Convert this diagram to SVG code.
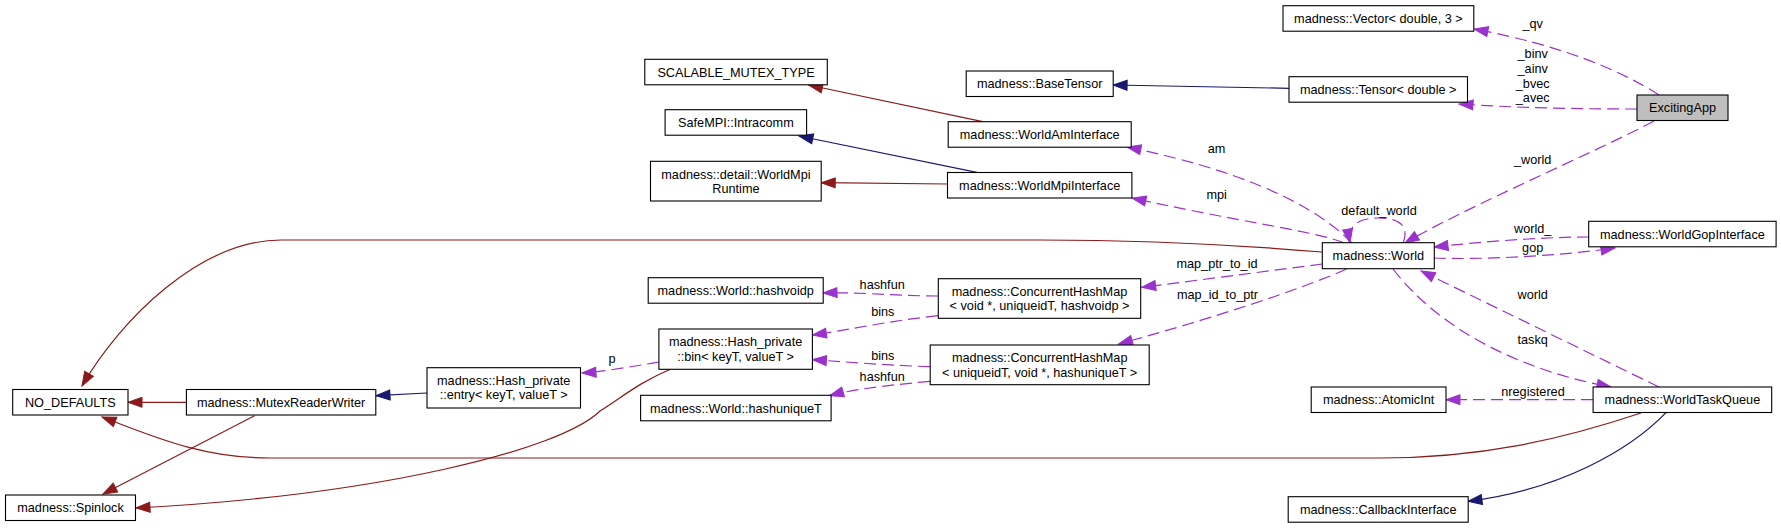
<svg xmlns="http://www.w3.org/2000/svg" width="1781" height="528" viewBox="0 0 1781 528">
<style>
  text { font-family: "Liberation Sans", Arial, sans-serif; font-size: 12.7px; fill: #000; }
  .node text { text-anchor: middle; }
  .lbl { text-anchor: middle; }
  .box { fill: #fff; stroke: #000; stroke-width: 1.1; }
  .cur { fill: #bfbfbf; stroke: #000; stroke-width: 1.1; }
  .e { fill: none; stroke-width: 1.2; }
  .use { stroke: #9a32cd; stroke-dasharray: 12,6; marker-end: url(#ap); }
  .pub { stroke: #191970; marker-end: url(#ab); }
  .pro { stroke: #8b1a1a; marker-end: url(#ar); }
</style>
<defs>
  <marker id="ap" markerUnits="userSpaceOnUse" markerWidth="15" markerHeight="11" refX="14" refY="5" orient="auto" overflow="visible">
    <path d="M0,0 L14,5 L0,10 z" fill="#9a32cd" stroke="#9a32cd" stroke-width="1"/>
  </marker>
  <marker id="ab" markerUnits="userSpaceOnUse" markerWidth="15" markerHeight="11" refX="14" refY="5" orient="auto" overflow="visible">
    <path d="M0,0 L14,5 L0,10 z" fill="#191970" stroke="#191970" stroke-width="1"/>
  </marker>
  <marker id="ar" markerUnits="userSpaceOnUse" markerWidth="15" markerHeight="11" refX="14" refY="5" orient="auto" overflow="visible">
    <path d="M0,0 L14,5 L0,10 z" fill="#8b1a1a" stroke="#8b1a1a" stroke-width="1"/>
  </marker>
</defs>
<rect width="1781" height="528" fill="#fff"/>

<g id="edges">
  <path class="e use" d="M1659,95 C1620,70 1560,45 1474,29"/>
  <path class="e use" d="M1637,109 C1580,109 1520,108 1459,104"/>
  <path class="e use" d="M1654,121 C1600,150 1460,210 1405,243"/>
  <path class="e use" d="M1403,243 C1410,225 1398,218 1378,218 C1358,218 1347,226 1350,243"/>
  <path class="e use" d="M1434,258 C1480,260 1560,256 1615,248"/>
  <path class="e use" d="M1589,237 C1540,237 1480,242 1434,247"/>
  <path class="e use" d="M1352,243 C1310,200 1230,168 1127,147"/>
  <path class="e use" d="M1344,243 C1320,232 1240,222 1132,198"/>
  <path class="e pro" d="M1322,252 C1250,246 1150,240 1040,240 L281,240 C200,240 120,320 82,386"/>
  <path class="e pro" d="M1641,413 C1560,440 1480,458 1380,458 L270,458 C200,458 150,435 102,417"/>
  <path class="e pro" d="M186,402.3 L128,402.3"/>
  <path class="e pro" d="M254.5,415.7 L103,494"/>
  <path class="e pro" d="M671,369 C640,382 625,395 600,411 C560,450 380,495 136,508"/>
  <path class="e pub" d="M427,393 L376,395.7"/>
  <path class="e use" d="M659,362 C630,367 600,372 582,373"/>
  <path class="e use" d="M938,296 C900,296 860,292 823,293"/>
  <path class="e use" d="M938,315.7 C880,322 850,330 812.4,335"/>
  <path class="e use" d="M930,366.7 C880,365 850,362 812.4,359.7"/>
  <path class="e use" d="M930,381.3 C880,386 850,390 829.6,395.7"/>
  <path class="e use" d="M1322.3,264 C1260,272 1200,280 1141.7,287.3"/>
  <path class="e use" d="M1346.7,269 C1300,290 1200,322 1118.5,344"/>
  <path class="e use" d="M1393,269 C1440,330 1520,370 1611,387"/>
  <path class="e use" d="M1659,387 L1421,271"/>
  <path class="e use" d="M1593,399.7 L1446,399.7"/>
  <path class="e pub" d="M1666,412.7 C1630,450 1560,490 1468,501.3"/>
  <path class="e pub" d="M1289,88.3 L1113.1,85"/>
  <path class="e pro" d="M982.7,121.7 L808.6,85"/>
  <path class="e pub" d="M976.9,172.3 L799,136"/>
  <path class="e pro" d="M947.5,184 L821.2,182.7"/>

  <text class="lbl" x="1532.7" y="28">_qv</text>
  <text class="lbl" x="1532.7" y="58.3">_binv</text>
  <text class="lbl" x="1532.7" y="72.8">_ainv</text>
  <text class="lbl" x="1532.7" y="87.5">_bvec</text>
  <text class="lbl" x="1532.7" y="102">_avec</text>
  <text class="lbl" x="1532.7" y="164">_world</text>
  <text class="lbl" x="1379" y="215">default_world</text>
  <text class="lbl" x="1532.7" y="232.7">world_</text>
  <text class="lbl" x="1532.7" y="251.7">gop</text>
  <text class="lbl" x="1216.5" y="152.7">am</text>
  <text class="lbl" x="1216.7" y="199">mpi</text>
  <text class="lbl" x="1217" y="268.3">map_ptr_to_id</text>
  <text class="lbl" x="1217.5" y="299.3">map_id_to_ptr</text>
  <text class="lbl" x="1532.7" y="299">world</text>
  <text class="lbl" x="1532.7" y="344">taskq</text>
  <text class="lbl" x="1533" y="395.7">nregistered</text>
  <text class="lbl" x="882.2" y="289">hashfun</text>
  <text class="lbl" x="882.8" y="315.7">bins</text>
  <text class="lbl" x="882.8" y="359.7">bins</text>
  <text class="lbl" x="882.2" y="380.7">hashfun</text>
  <text class="lbl" x="612" y="363.3">p</text>
</g>

<g id="ExcitingApp" class="node"><rect class="cur" x="1637" y="95" width="91" height="25.5"/><text x="1682.5" y="112.3">ExcitingApp</text></g>
<g id="Vector" class="node"><rect class="box" x="1283" y="5.7" width="190.8" height="25.5"/><text x="1378.4" y="23">madness::Vector&lt; double, 3 &gt;</text></g>
<g id="Tensor" class="node"><rect class="box" x="1289" y="76.7" width="178.5" height="25.5"/><text x="1378.2" y="94">madness::Tensor&lt; double &gt;</text></g>
<g id="BaseTensor" class="node"><rect class="box" x="966.2" y="71" width="147" height="25.5"/><text x="1039.7" y="88.3">madness::BaseTensor</text></g>
<g id="ScalableMutex" class="node"><rect class="box" x="644.8" y="59.3" width="182.5" height="25.5"/><text x="736" y="76.6">SCALABLE_MUTEX_TYPE</text></g>
<g id="Intracomm" class="node"><rect class="box" x="665.1" y="109.7" width="141.5" height="25.5"/><text x="735.9" y="127">SafeMPI::Intracomm</text></g>
<g id="WorldMpiRuntime" class="node"><rect class="box" x="650.5" y="161.3" width="170.7" height="39.7"/><text x="735.9" y="178.5">madness::detail::WorldMpi</text><text x="735.9" y="192.8">Runtime</text></g>
<g id="WorldAmInterface" class="node"><rect class="box" x="948.2" y="121.7" width="183" height="25.5"/><text x="1039.7" y="139">madness::WorldAmInterface</text></g>
<g id="WorldMpiInterface" class="node"><rect class="box" x="947.5" y="172.5" width="184.4" height="25.5"/><text x="1039.7" y="189.8">madness::WorldMpiInterface</text></g>
<g id="World" class="node"><rect class="box" x="1322.3" y="242.7" width="112" height="26"/><text x="1378.3" y="260.2">madness::World</text></g>
<g id="WorldGopInterface" class="node"><rect class="box" x="1588.7" y="221.3" width="187.4" height="25.5"/><text x="1682.4" y="238.6">madness::WorldGopInterface</text></g>
<g id="hashvoidp" class="node"><rect class="box" x="648.2" y="277.7" width="175" height="25.5"/><text x="735.7" y="295">madness::World::hashvoidp</text></g>
<g id="CHMvoid" class="node"><rect class="box" x="938.3" y="278.7" width="202.4" height="39.6"/><text x="1039.5" y="295.8">madness::ConcurrentHashMap</text><text x="1039.5" y="310.1">&lt; void *, uniqueidT, hashvoidp &gt;</text></g>
<g id="HashBin" class="node"><rect class="box" x="658.9" y="329" width="153.5" height="40.3"/><text x="735.6" y="346.4">madness::Hash_private</text><text x="735.6" y="360.7">::bin&lt; keyT, valueT &gt;</text></g>
<g id="CHMunique" class="node"><rect class="box" x="930.2" y="345" width="219" height="39.7"/><text x="1039.7" y="362.2">madness::ConcurrentHashMap</text><text x="1039.7" y="376.5">&lt; uniqueidT, void *, hashuniqueT &gt;</text></g>
<g id="hashuniqueT" class="node"><rect class="box" x="640.6" y="395.3" width="190.5" height="25.5"/><text x="735.9" y="412.6">madness::World::hashuniqueT</text></g>
<g id="HashEntry" class="node"><rect class="box" x="427" y="367.7" width="153.5" height="40.3"/><text x="503.7" y="385.1">madness::Hash_private</text><text x="503.7" y="399.4">::entry&lt; keyT, valueT &gt;</text></g>
<g id="NO_DEFAULTS" class="node"><rect class="box" x="12.7" y="389.5" width="115.3" height="25.5"/><text x="70.3" y="406.8">NO_DEFAULTS</text></g>
<g id="MutexReaderWriter" class="node"><rect class="box" x="186.4" y="389.5" width="189.4" height="25.5"/><text x="281.1" y="406.8">madness::MutexReaderWriter</text></g>
<g id="Spinlock" class="node"><rect class="box" x="5.5" y="495" width="130" height="25.5"/><text x="70.5" y="512.3">madness::Spinlock</text></g>
<g id="AtomicInt" class="node"><rect class="box" x="1311.2" y="387" width="134.8" height="25.5"/><text x="1378.6" y="404.3">madness::AtomicInt</text></g>
<g id="WorldTaskQueue" class="node"><rect class="box" x="1593.1" y="387" width="178.6" height="25.5"/><text x="1682.4" y="404.3">madness::WorldTaskQueue</text></g>
<g id="CallbackInterface" class="node"><rect class="box" x="1288.2" y="496.7" width="180" height="25.5"/><text x="1378.2" y="514">madness::CallbackInterface</text></g>
</svg>
